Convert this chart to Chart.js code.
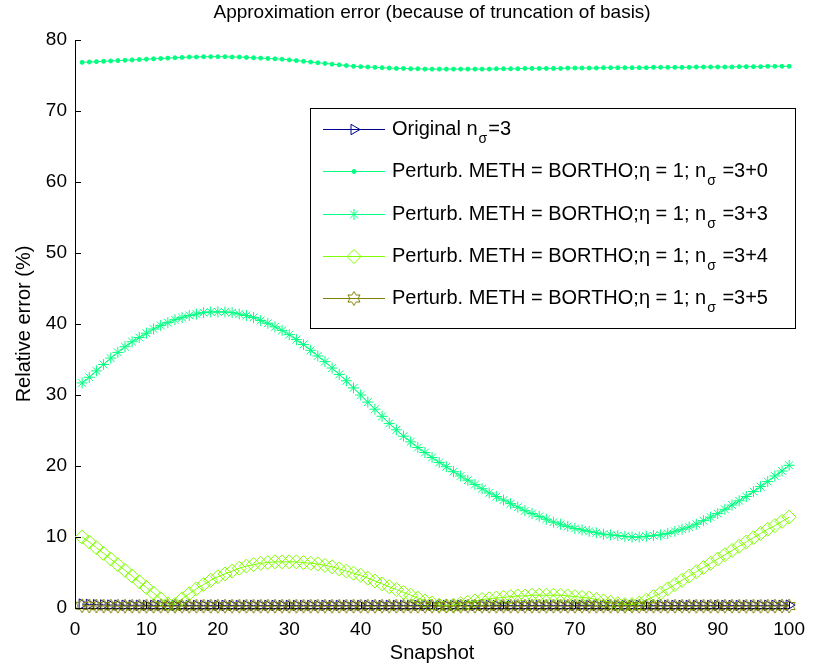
<!DOCTYPE html>
<html>
<head>
<meta charset="utf-8">
<script src="https://cdn.jsdelivr.net/npm/chart.js@4.4.0/dist/chart.umd.min.js"></script>
<style>
  html, body { margin: 0; padding: 0; background: #fff; }
  #wrap { width: 815px; height: 666px; }
</style>
</head>
<body>
<div id="wrap"><canvas id="chart" width="815" height="666"></canvas></div>
<script>
// ─── Data ────────────────────────────────────────
const snapshots = Array.from({ length: 100 }, (_, i) => i + 1);
const xTicks = [0, 10, 20, 30, 40, 50, 60, 70, 80, 90, 100];
const yTicks = [0, 10, 20, 30, 40, 50, 60, 70, 80];

const errOriginal = [
  0.55, 0.5, 0.46, 0.43, 0.41, 0.4, 0.39, 0.38, 0.38, 0.37,
  0.37, 0.36, 0.36, 0.36, 0.36, 0.36, 0.36, 0.36, 0.36, 0.36,
  0.36, 0.36, 0.36, 0.36, 0.36, 0.36, 0.36, 0.36, 0.36, 0.36,
  0.36, 0.36, 0.36, 0.36, 0.36, 0.36, 0.36, 0.36, 0.36, 0.36,
  0.36, 0.36, 0.36, 0.36, 0.36, 0.36, 0.36, 0.36, 0.36, 0.36,
  0.36, 0.36, 0.36, 0.36, 0.36, 0.36, 0.36, 0.36, 0.36, 0.36,
  0.36, 0.36, 0.36, 0.36, 0.36, 0.36, 0.36, 0.36, 0.36, 0.36,
  0.36, 0.36, 0.36, 0.36, 0.36, 0.36, 0.36, 0.36, 0.36, 0.36,
  0.36, 0.36, 0.36, 0.36, 0.36, 0.36, 0.36, 0.36, 0.36, 0.36,
  0.36, 0.36, 0.36, 0.36, 0.36, 0.36, 0.37, 0.37, 0.38, 0.4
];
const errPert0 = [
  76.85, 76.9, 76.95, 77.0, 77.05, 77.1, 77.15, 77.2, 77.25, 77.3,
  77.35, 77.4, 77.45, 77.5, 77.55, 77.6, 77.6, 77.65, 77.65, 77.65,
  77.65, 77.6, 77.6, 77.55, 77.5, 77.45, 77.4, 77.35, 77.3, 77.2,
  77.1, 77.0, 76.9, 76.8, 76.7, 76.6, 76.5, 76.4, 76.3, 76.25,
  76.2, 76.15, 76.1, 76.05, 76.0, 76.0, 75.95, 75.95, 75.9, 75.9,
  75.9, 75.9, 75.9, 75.9, 75.9, 75.9, 75.9, 75.9, 75.95, 75.95,
  75.95, 75.95, 76.0, 76.0, 76.0, 76.0, 76.0, 76.0, 76.05, 76.05,
  76.05, 76.05, 76.05, 76.1, 76.1, 76.1, 76.1, 76.1, 76.1, 76.1,
  76.15, 76.15, 76.15, 76.15, 76.15, 76.15, 76.2, 76.2, 76.2, 76.2,
  76.2, 76.2, 76.25, 76.25, 76.25, 76.25, 76.3, 76.3, 76.3, 76.3
];
const errPert3 = [
  31.7, 32.5, 33.4, 34.3, 35.2, 36.0, 36.8, 37.5, 38.1, 38.7,
  39.3, 39.8, 40.2, 40.6, 40.9, 41.2, 41.4, 41.6, 41.7, 41.7,
  41.7, 41.6, 41.4, 41.2, 40.9, 40.5, 40.1, 39.6, 39.1, 38.5,
  37.8, 37.1, 36.3, 35.5, 34.7, 33.8, 32.9, 32.0, 31.0, 30.0,
  29.0, 28.0, 27.0, 26.0, 25.1, 24.2, 23.4, 22.6, 21.9, 21.2,
  20.5, 19.9, 19.2, 18.6, 18.0, 17.4, 16.8, 16.2, 15.7, 15.2,
  14.7, 14.2, 13.7, 13.3, 12.9, 12.5, 12.1, 11.8, 11.5, 11.2,
  11.0, 10.8, 10.6, 10.4, 10.3, 10.2, 10.1, 10.0, 10.0, 10.1,
  10.2, 10.3, 10.5, 10.8, 11.1, 11.4, 11.8, 12.3, 12.8, 13.3,
  13.9, 14.5, 15.1, 15.7, 16.4, 17.1, 17.8, 18.6, 19.3, 20.1
];
const errPert4 = [
  10.0, 9.3, 8.5, 7.7, 6.9, 6.1, 5.3, 4.5, 3.7, 2.9,
  2.1, 1.3, 0.6, 0.5, 1.3, 2.0, 2.7, 3.3, 3.9, 4.4,
  4.8, 5.2, 5.6, 5.9, 6.1, 6.3, 6.4, 6.5, 6.5, 6.5,
  6.5, 6.4, 6.3, 6.2, 6.0, 5.8, 5.5, 5.2, 4.9, 4.6,
  4.2, 3.8, 3.4, 3.0, 2.6, 2.2, 1.8, 1.4, 1.0, 0.7,
  0.4, 0.3, 0.4, 0.6, 0.8, 1.0, 1.2, 1.3, 1.4, 1.5,
  1.6, 1.7, 1.7, 1.8, 1.8, 1.8, 1.8, 1.8, 1.7, 1.6,
  1.5, 1.4, 1.2, 1.0, 0.8, 0.6, 0.5, 0.5, 0.7, 1.1,
  1.6, 2.1, 2.7, 3.3, 3.9, 4.5, 5.1, 5.7, 6.3, 6.9,
  7.5, 8.1, 8.7, 9.3, 9.9, 10.5, 11.1, 11.6, 12.2, 12.8
];
const errPert5 = [
  0.32, 0.3, 0.28, 0.27, 0.26, 0.26, 0.25, 0.25, 0.25, 0.25,
  0.25, 0.25, 0.25, 0.25, 0.25, 0.25, 0.25, 0.25, 0.25, 0.25,
  0.25, 0.25, 0.25, 0.25, 0.25, 0.25, 0.25, 0.25, 0.25, 0.25,
  0.25, 0.25, 0.25, 0.25, 0.25, 0.25, 0.25, 0.25, 0.25, 0.25,
  0.25, 0.25, 0.25, 0.25, 0.25, 0.25, 0.25, 0.25, 0.25, 0.25,
  0.25, 0.25, 0.25, 0.25, 0.25, 0.25, 0.25, 0.25, 0.25, 0.25,
  0.25, 0.25, 0.25, 0.25, 0.25, 0.25, 0.25, 0.25, 0.25, 0.25,
  0.25, 0.25, 0.25, 0.25, 0.25, 0.25, 0.25, 0.25, 0.25, 0.25,
  0.25, 0.25, 0.25, 0.25, 0.25, 0.25, 0.25, 0.25, 0.25, 0.25,
  0.25, 0.25, 0.25, 0.25, 0.25, 0.25, 0.25, 0.26, 0.27, 0.28
];

const legendMain = [
  'Original n',
  'Perturb. METH = BORTHO;\u03b7 = 1; n',
  'Perturb. METH = BORTHO;\u03b7 = 1; n',
  'Perturb. METH = BORTHO;\u03b7 = 1; n',
  'Perturb. METH = BORTHO;\u03b7 = 1; n'
];
const legendTail = ['=3', ' =3+0', ' =3+3', ' =3+4', ' =3+5'];

const FONT = '"Liberation Sans", Arial, Helvetica, sans-serif';
const COLORS = ['#00008f', '#00ff80', '#00ff80', '#80ff00', '#808000'];

// ─── Markers ─────────────────────────────────────
function hexagram(color, r) {
  const s = Math.ceil(r * 2 + 4);
  const c = document.createElement('canvas');
  c.width = s; c.height = s;
  const g = c.getContext('2d');
  g.strokeStyle = color;
  g.lineWidth = 1;
  g.beginPath();
  for (let k = 0; k < 12; k++) {
    const a = -Math.PI / 2 + k * Math.PI / 6;
    const rr = k % 2 ? r / Math.sqrt(3) : r;
    const px = s / 2 + rr * Math.cos(a), py = s / 2 + rr * Math.sin(a);
    k ? g.lineTo(px, py) : g.moveTo(px, py);
  }
  g.closePath();
  g.stroke();
  return c;
}

const markers = [
  { pointStyle: 'triangle', radius: 6, rotation: 90, fill: false },
  { pointStyle: 'circle', radius: 2, rotation: 0, fill: true },
  { pointStyle: 'star', radius: 5.5, rotation: 0, fill: false },
  { pointStyle: 'rectRot', radius: 7, rotation: 0, fill: false },
  { pointStyle: hexagram(COLORS[4], 7), radius: 7, rotation: 0, fill: false }
];

function lineSet(values, i) {
  const m = markers[i];
  return {
    label: legendMain[i] + '\u03c3' + legendTail[i],
    data: values.map((v, k) => ({ x: snapshots[k], y: v })),
    borderColor: COLORS[i],
    backgroundColor: COLORS[i],
    pointBorderColor: COLORS[i],
    pointBackgroundColor: m.fill ? COLORS[i] : 'rgba(0,0,0,0)',
    borderWidth: 1,
    pointBorderWidth: 1,
    pointRadius: m.radius,
    pointStyle: m.pointStyle,
    pointRotation: m.rotation,
    tension: 0,
    clip: false,
    order: 4 - i
  };
}

// ─── MATLAB-ish axes, titles and legend ──────────
const matlabLook = {
  id: 'matlabLook',
  afterDraw(chart) {
    const { ctx, chartArea: a, scales: { x, y } } = chart;
    ctx.save();

    // inward tick marks
    ctx.strokeStyle = '#000';
    ctx.lineWidth = 1;
    ctx.beginPath();
    xTicks.forEach(v => {
      const px = Math.round(x.getPixelForValue(v)) + 0.5;
      ctx.moveTo(px, a.bottom);
      ctx.lineTo(px, a.bottom - 6);
    });
    yTicks.forEach(v => {
      const py = Math.round(y.getPixelForValue(v)) + 0.5;
      ctx.moveTo(a.left, py);
      ctx.lineTo(a.left + 6, py);
    });
    ctx.stroke();

    // titles
    ctx.fillStyle = '#000';
    ctx.textAlign = 'center';
    ctx.textBaseline = 'middle';
    ctx.font = `19px ${FONT}`;
    ctx.fillText('Approximation error (because of truncation of basis)', (a.left + a.right) / 2, 13);
    ctx.font = `20px ${FONT}`;
    ctx.fillText('Snapshot', (a.left + a.right) / 2, 653);
    ctx.save();
    ctx.translate(24, (a.top + a.bottom) / 2);
    ctx.rotate(-Math.PI / 2);
    ctx.fillText('Relative error (%)', 0, 0);
    ctx.restore();

    // legend box
    const box = { left: 310.5, top: 108.5, right: 795.5, bottom: 328.5 };
    ctx.fillStyle = '#fff';
    ctx.fillRect(box.left, box.top, box.right - box.left, box.bottom - box.top);
    ctx.strokeStyle = '#000';
    ctx.strokeRect(box.left, box.top, box.right - box.left, box.bottom - box.top);

    legendMain.forEach((main, i) => {
      const ry = Math.round(box.top + 20.5 + i * 42.3);
      const m = markers[i];
      // sample line
      ctx.fillStyle = COLORS[i];
      ctx.fillRect(323, ry, 62, 1);
      // sample marker
      ctx.strokeStyle = COLORS[i];
      ctx.lineWidth = 1;
      ctx.fillStyle = m.fill ? COLORS[i] : 'rgba(0,0,0,0)';
      Chart.helpers.drawPoint(ctx, {
        pointStyle: m.pointStyle, radius: m.radius, rotation: m.rotation, borderWidth: 1
      }, 354, ry + 0.5);

      ctx.fillStyle = '#000';
      ctx.textAlign = 'left';
      ctx.textBaseline = 'middle';
      let tx = 392;
      ctx.font = `20px ${FONT}`;
      ctx.fillText(main, tx, ry);
      tx += ctx.measureText(main).width;
      ctx.font = `14px ${FONT}`;
      ctx.fillText('\u03c3', tx + 1, ry + 10);
      tx += ctx.measureText('\u03c3').width + 2;
      ctx.font = `20px ${FONT}`;
      ctx.fillText(legendTail[i], tx, ry);
    });

    ctx.restore();
  }
};

// ─── Chart ───────────────────────────────────────
const seriesValues = [errOriginal, errPert0, errPert3, errPert4, errPert5];

new Chart(document.getElementById('chart'), {
  type: 'line',
  data: { datasets: seriesValues.map(lineSet) },
  options: {
    responsive: false,
    animation: false,
    layout: { padding: { top: 40, right: 18, left: 0, bottom: 0 } },
    plugins: { legend: { display: false }, tooltip: { enabled: false }, title: { display: false } },
    scales: {
      x: {
        type: 'linear', min: 0, max: 100,
        afterBuildTicks: s => { s.ticks = xTicks.map(v => ({ value: v })); },
        afterFit: s => { s.height = 58; },
        grid: { display: false, drawTicks: false },
        border: { display: true, color: '#000', width: 1 },
        ticks: { color: '#000', padding: 10, maxRotation: 0, font: { size: 19, family: FONT } }
      },
      y: {
        type: 'linear', min: 0, max: 80,
        afterBuildTicks: s => { s.ticks = yTicks.map(v => ({ value: v })); },
        afterFit: s => { s.width = 75; },
        grid: { display: false, drawTicks: false },
        border: { display: true, color: '#000', width: 1 },
        ticks: { color: '#000', padding: 8, font: { size: 19, family: FONT } }
      }
    }
  },
  plugins: [matlabLook]
});
</script>
</body>
</html>
